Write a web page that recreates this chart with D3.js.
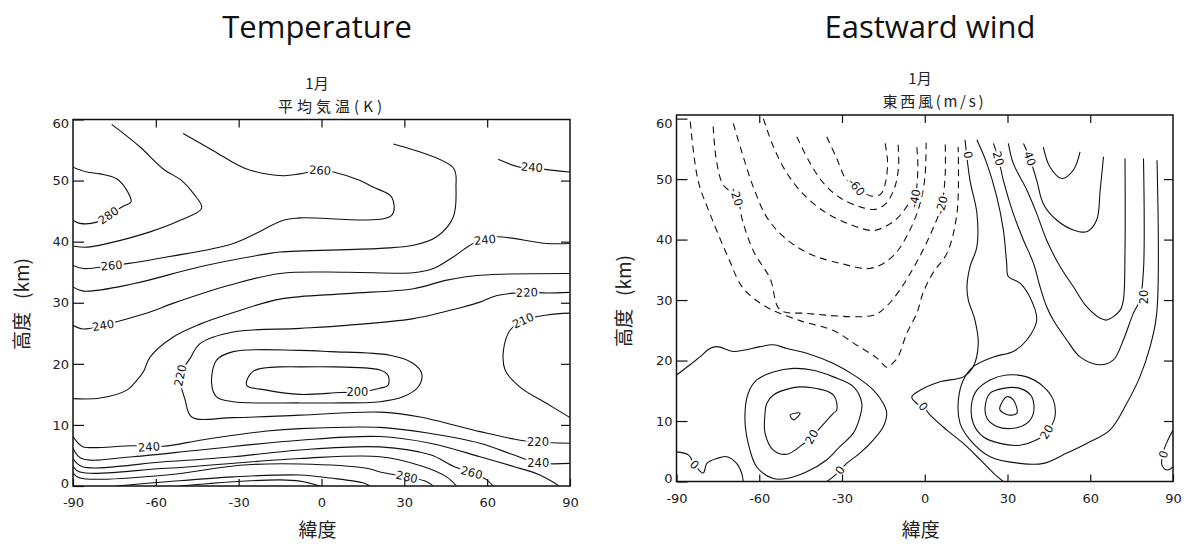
<!DOCTYPE html>
<html><head><meta charset="utf-8">
<script src="https://cdn.jsdelivr.net/npm/d3@7"></script>
<style>body{margin:0;background:#fff}</style></head>
<body><svg id="c" width="1186" height="550"></svg>
<script>
const latTicks=[-90,-60,-30,0,30,60,90];
const altTicks=[0,10,20,30,40,50,60];

// ---- Temperature (K) contours, [latitude, km] ----
const T280=[[-90,52.2],[-85,51.4],[-80.2,51.1],[-74.2,50.3],[-70.5,48.4],[-69,46.5],[-71.8,45.8],[-77.2,44.3],[-81.4,43.2],[-87.5,43.0],[-90,43.5]];
const T270=[[-76,59.2],[-65.7,55.5],[-57.3,51.9],[-50.6,50.0],[-46.4,47.9],[-43.4,45.5],[-51.2,43.5],[-62.1,41.6],[-76.6,39.8],[-85,39.1],[-90,39.3]];
const T260=[[-50.1,57.7],[-39.2,54.9],[-27.1,51.9],[-13.8,50.8],[-7.8,51.1],[-0.5,51.7],[4.3,51.4],[14,50],[18.8,48.9],[25.4,47.3],[25.4,44.3],[-7.8,43.9],[-13.8,43.5],[-31.9,39.7],[-56.1,37.5],[-70.5,36.4],[-76,36.1],[-86.3,35.6],[-90,36.1]];
const T250=[[26,56],[47.7,52.1],[48.7,48.9],[47.7,44],[41.7,40.8],[33.3,39.4],[21.2,38.9],[-15,38.3],[-19.8,38],[-44,35.9],[-68.2,33.1],[-86.3,31.9],[-90,32.6]];
const T240a=[[64,53.5],[71.9,52.2],[76.2,52.2],[81.6,51.8],[90,51.4]];
const T240b=[[90,39.7],[81.6,39.7],[63.5,40.8],[59.2,40.3],[54.9,39.7],[47.7,37.5],[40.5,35.6],[33.2,34.9],[9.1,35.0],[-15,34.8],[-33.1,32.9],[-53.8,29.9],[-62.1,28.5],[-74.1,26.9],[-79.1,26.3],[-86.4,25.7],[-90,26.3]];
const T230=[[90,34.8],[57.4,34.5],[45.4,33.7],[33.3,32.3],[9.1,31.5],[-15,30.6],[-31.9,28.4],[-44,26.5],[-53.7,24.4],[-62.1,21.1],[-64.5,18.7],[-66.9,17.3],[-70.5,15.7],[-80.2,14.4],[-90,14.3]];
const T220=[[90,31.7],[81.7,31.6],[74.4,31.7],[63.6,31.2],[57.4,30.1],[51.3,29.3],[33.3,27.4],[9.1,26.3],[-7.8,25.8],[-32,25.2],[-44,23.3],[-47.6,20.9],[-51.2,18.1],[-49.4,14.1],[-47,11.3],[-32,11.2],[-7.8,11.6],[21.2,12.1],[35.7,11.3],[57.4,8.9],[71.9,7.5],[78.4,7.2],[90,7.0]];
const T210a=[[-7.8,22.2],[-32,22.0],[-38,20.6],[-39.8,16.8],[-38,14.6],[-32,13.8],[-7.8,13.6],[3.1,13.6],[21.2,13.8],[29.5,14.6],[35,16.2],[36.3,18.4],[33.1,20.1],[24.8,21.4],[3.1,22.0]];
const T210b=[[90,28.3],[81.7,28.0],[73,27.1],[68.3,25.5],[65.9,22.2],[66.5,19.0],[71.9,16.2],[81.6,13.5],[90,11.2]];
const T200=[[-7.8,19.5],[-24.7,18.8],[-27.1,16.5],[-19.9,15.7],[-7.8,15.0],[6.7,15.3],[13.9,15.4],[21.2,16.0],[24.1,16.5],[24.1,18.1],[21.2,19.0],[-7.8,19.5]];
const T240c=[[-90,8.1],[-88.1,7.0],[-86.3,6.4],[-68.2,6.6],[-57.3,6.5],[-44,7.5],[-31.9,8.3],[-19.8,9.0],[-7.8,9.4],[21.2,9.6],[39.4,8.6],[57.4,7.0],[69.5,5.1],[78.1,3.8],[90,3.7]];
const T250b=[[-90,6.2],[-86.8,4.5],[-68.2,4.8],[-44,5.9],[-7.8,7.5],[21.2,8.1],[39.4,7.0],[57.4,4.8],[69.5,3.2],[78,2.0],[84,0.6],[86,0]];
const T260b=[[-90,4.5],[-86.8,3.2],[-56.1,4.0],[-31.9,4.8],[-7.8,5.9],[21.2,6.4],[39.4,5.1],[47.9,3.2],[54.4,2.2],[59.8,1.0],[62.2,0]];
const T270b=[[-90,3.2],[-87.5,2.3],[-56.1,2.9],[-7.8,4.5],[21.2,4.8],[36.8,3.2],[45.3,1.5],[48.9,0]];
const T280b=[[-90,2.1],[-87.5,1.3],[-56.1,1.8],[-29.5,3.4],[-7.8,3.6],[16.3,2.9],[21.2,2.3],[30.9,1.5],[38.1,0.7],[40.5,0]];
const T290b=[[-74.2,0],[-56.1,0.7],[-31.9,1.5],[-7.8,1.8],[3.1,1.3],[15.2,0.5],[17.6,0]];
const T300b=[[-51.3,0],[-31.9,0.7],[-15,1.0],[-7.8,0.8],[-0.5,0]];
const tempLines=[T280,T270,T260,T250,T240a,T240b,T230,T220,T210b,T240c,T250b,T260b,T270b,T280b,T290b,T300b];
const tempLoops=[T210a,T200];
const tempLabels=[["280",-77.2,44.3,-35],["260",-0.5,51.7,3],["240",76.2,52.2,4],["240",59.2,40.3,-6],["260",-76,36.1,-4],["220",74.4,31.7,-2],["240",-79.1,26.3,-10],["210",73,27.1,-25],["220",-51.2,18.1,-78],["200",13,15.4,0],["220",78.4,7.2,0],["240",-62.5,6.4,-4],["240",78.5,3.8,0],["260",54.4,2.2,15],["280",30.9,1.5,12]];

// ---- Eastward wind (m/s) contours ----
const Wm10=[[-85,59.5],[-82.2,49.8],[-77.9,44.3],[-71.3,37.1],[-65.9,32],[-57.2,28.8],[-45.2,26.6],[-33.3,25],[-24.5,22.5],[-17.3,20.4],[-13.7,18.9],[-11.5,19.6],[-9.7,20.6],[-6.5,24.5],[-2.8,27.9],[-0.6,31.2],[3,34.5],[8.1,37.8],[11.7,44.4],[12.1,55.3]];
const Wm20=[[-76.7,58.7],[-75.5,53],[-73,49],[-68.2,47.1],[-66,43],[-62,38],[-56,33.5],[-52.5,28.4],[-43,27.8],[-18.6,27.5],[-13.8,29],[-9,31.7],[-3.5,35.8],[1.9,40.7],[6.1,45.7],[7.4,50.7],[7.4,56.5]];
const Wm30=[[-69.4,59.2],[-66,54],[-62,48.5],[-57,43.5],[-50,40],[-41,37.5],[-30,36],[-21,35.2],[-16,35.8],[-11,37.5],[-6,41],[-2,45.5],[0,50],[0.5,56]];
const Wm40=[[-58.5,60],[-55,55.5],[-50,51],[-44,47.5],[-36,44.5],[-27,42.5],[-19,41.5],[-15,42],[-10,43.5],[-6.5,45.5],[-3.5,47.5],[-2.5,52],[-3,56]];
const Wm50=[[-46.4,57],[-42,53],[-37,49.5],[-31,47],[-24,45.5],[-18,45],[-14,46],[-11,48.5],[-9.5,52],[-9.7,56]];
const Wm60=[[-35.5,57],[-32,53.5],[-28.5,50],[-24,48.5],[-19.5,47.2],[-16,47.5],[-14.2,49.5],[-13.5,53],[-14.4,56]];
const W0n=[[14.6,56.5],[16.4,49.8],[18.9,44.4],[18.9,38.8],[16.4,35.5],[15.3,32.2],[15.8,30],[18.2,26.7],[19.4,22.8],[17.6,19],[14,17.3],[5.5,16.5],[-1.7,15.1],[-4.7,14],[-2.9,12.9],[-0.5,12.4],[1.9,11],[8,8.5],[14,6.3],[20.1,3.6],[24.9,1.4],[28.5,0]];
const W0s=[[-90,17.6],[-85.1,19.3],[-81.5,20.6],[-77.9,22],[-75.4,22.3],[-69.4,21.5],[-65.8,21.7],[-59.7,22.3],[-54.9,22.6],[-50,22],[-42.8,21.2],[-33.1,19.5],[-24.7,17.3],[-18.6,15.1],[-15,12.9],[-13.8,11.3],[-15,9.1],[-18.6,6.9],[-23.5,4.7],[-28.3,3],[-30.7,1.9],[-33.1,0.8],[-35.5,0]];
const W0sw=[[-90,4.9],[-85.7,4.4],[-83.5,2.8],[-80.3,1.4],[-79,3],[-75.4,3.8],[-71.8,4.1],[-68.2,3],[-66.4,1.4],[-65.8,0]];
const W0ne=[[90,8.5],[88.2,6.9],[86.4,4.8],[86,2.7],[87.9,1.9],[90,2.4]];
const W10s=[[-65.2,10.7],[-64,14.6],[-60.9,16.8],[-54.9,18.1],[-47.6,18.7],[-40.4,18.4],[-33.1,17.3],[-25.9,15.7],[-22.8,12.9],[-23.5,10.7],[-25.9,8],[-30.7,5.8],[-35.5,3.6],[-42.8,1.6],[-50,0.5],[-54.9,0.5],[-60.9,2.4],[-64,6.3]];
const W20s=[[-57.3,12.9],[-54.9,14.3],[-48.8,15.4],[-42.8,15.6],[-33.1,14.3],[-31.9,11.8],[-33.1,11.3],[-41,7.4],[-45.2,5.8],[-50,4.5],[-54.9,5.2],[-57.9,8],[-57.9,11.3]];
const W30s=[[-48.8,11.0],[-45.2,11.3],[-47.6,10.2]];
const W10n=[[18.9,56.5],[22.5,52.6],[26.1,47.1],[28.5,41.6],[29.7,36.1],[30.3,33.9],[34.5,32.8],[38.1,30.5],[40.6,26.7],[37,23.4],[32.1,21.5],[24.9,20.6],[17.6,19],[14,16.8],[12.2,13.5],[12.8,9.6],[16.4,6.9],[23.7,4.1],[34.5,3.0],[43,3.0],[51.5,4.7],[58.7,6.3],[67.1,8.5],[73.2,12.9],[78,17.3],[81.7,22.3],[84.1,27.8],[84.2,53.1]];
const W20n=[[24.9,55.9],[26.7,53.4],[28.5,49.8],[32.1,44.3],[35.8,39.9],[39.4,36.1],[41.8,32.2],[44.2,28.9],[46.6,26.7],[51.5,23.4],[56.3,20.6],[63.6,19.3],[68.4,20.1],[72,23.4],[75.6,27.8],[78,30],[79.3,35],[79.3,53.4]];
const W30n=[[30.3,55.9],[32.1,52.6],[37,48.2],[40.6,44.3],[44.2,39.9],[49.1,35.5],[53.9,32.2],[58.7,28.9],[63.6,27],[66,26.7],[70.8,28.3],[72,30],[72.6,38.3],[72.6,53.4]];
const W40n=[[35.8,55.9],[38.1,53.4],[40.6,49.8],[43,45.9],[47.9,43.2],[53.9,41.6],[58.7,41.3],[62.3,43.2],[63.6,48.2],[64.8,53.7]];
const W50n=[[43,55.3],[45.4,52],[49.7,50.1],[53.9,51.5],[56.3,54.5]];
const W20l=[[17,12.9],[18.9,15.1],[23.7,16.8],[29.7,17.6],[37,17.3],[43,15.7],[46.6,13.5],[47.2,10.7],[45.4,8.8],[44.2,8.2],[40.6,6.9],[34.5,6],[27.3,6.3],[21.2,7.4],[17.6,9.6]];
const W30l=[[21.9,12.4],[23.7,14.6],[28.5,15.4],[34.5,15.4],[38.8,14],[39.4,11.3],[37,9.6],[32.1,8.8],[26.1,9.1],[22.5,10.5]];
const W40l=[[27.3,12.4],[29.7,14],[32.1,13.5],[33.4,11.3],[30.3,11],[27.3,11.8]];
const windDashed=[Wm10,Wm20,Wm30,Wm40,Wm50,Wm60];
const windLines=[W0n,W0s,W0sw,W0ne,W10n,W20n,W30n,W40n,W50n];
const windLoops=[W10s,W20s,W30s,W20l,W30l,W40l];
const windLabels=[["-20",-68.2,47.1,72],["-60",-24.7,48.7,50],["-40",-3.6,46.8,-80],["-20",6.1,45.7,-75],["0",15.8,54,80],["20",26.7,53.4,75],["40",38.1,53.4,70],["20",79.3,30.5,-90],["0",-83.5,2.8,45],["20",-41,7.4,-60],["0",-30.7,1.9,-55],["0",-0.5,12.4,50],["20",44.2,8.2,-60],["0",86.5,4.5,-70]];

const svg=d3.select("#c");
const CJK='"Noto Sans CJK JP",sans-serif';
const fmt=d=>String(d);

function panel(o){
  const x=d3.scaleLinear().domain([-90,90]).range([o.x0,o.x1]);
  const y=d3.scaleLinear().domain([0,o.ytop]).range([o.y0,o.y1]);
  const g=svg.append("g");
  const id="clip"+o.id;
  svg.append("clipPath").attr("id",id).append("rect")
    .attr("x",o.x0).attr("y",o.y1).attr("width",o.x1-o.x0).attr("height",o.y0-o.y1);
  const cg=g.append("g").attr("clip-path",`url(#${id})`);
  const line=d3.line().x(d=>x(d[0])).y(d=>y(d[1])).curve(d3.curveCatmullRom.alpha(0.5));
  const loop=d3.line().x(d=>x(d[0])).y(d=>y(d[1])).curve(d3.curveCatmullRomClosed.alpha(0.5));
  o.lines.forEach(p=>cg.append("path").attr("d",line(p)).attr("fill","none").attr("stroke","#111").attr("stroke-width",1.1));
  (o.dashed||[]).forEach(p=>cg.append("path").attr("d",line(p)).attr("fill","none").attr("stroke","#111").attr("stroke-width",1.1).attr("stroke-dasharray","7,5"));
  o.loops.forEach(p=>cg.append("path").attr("d",loop(p)).attr("fill","none").attr("stroke","#111").attr("stroke-width",1.1));
  o.labels.forEach(([t,la,km,a])=>{
    cg.append("text").attr("transform",`translate(${x(la)},${y(km)}) rotate(${a})`)
      .attr("text-anchor","middle").attr("dy","0.36em")
      .attr("font-family","DejaVu Sans").attr("font-size",11.5)
      .attr("stroke","#fff").attr("stroke-width",4).attr("paint-order","stroke")
      .attr("fill","#111").text(t);
  });
  g.append("rect").attr("x",o.x0).attr("y",o.y1).attr("width",o.x1-o.x0).attr("height",o.y0-o.y1)
    .attr("fill","none").attr("stroke","#111").attr("stroke-width",1.5);
  const bottom=d3.axisBottom(x).tickValues(latTicks).tickSize(-7).tickPadding(12).tickFormat(fmt);
  const ga=g.append("g").attr("transform",`translate(0,${o.y0})`).call(bottom);
  ga.select(".domain").remove();
  ga.selectAll("text").attr("font-family","DejaVu Sans").attr("font-size",13).attr("fill","#222");
  const top=d3.axisTop(x).tickValues(latTicks.slice(1,-1)).tickSize(-8).tickFormat("");
  g.append("g").attr("transform",`translate(0,${o.y1})`).call(top).select(".domain").remove();
  const left=d3.axisLeft(y).tickValues(altTicks).tickSize(-11).tickPadding(4).tickFormat(fmt);
  const gl=g.append("g").attr("transform",`translate(${o.x0},0)`).call(left);
  gl.select(".domain").remove();
  gl.selectAll("text").attr("font-family","DejaVu Sans").attr("font-size",13).attr("fill","#222")
    .attr("dy",d=>d===60?"0.65em":(d===0?"0.1em":"0.32em"));
  const right=d3.axisRight(y).tickValues(altTicks.slice(1,-1)).tickSize(-9).tickFormat("");
  g.append("g").attr("transform",`translate(${o.x1},0)`).call(right).select(".domain").remove();
  g.selectAll(".tick line").attr("stroke","#111").attr("stroke-width",1.2);
  svg.append("text").attr("x",o.tx).attr("y",38).attr("text-anchor","middle")
    .attr("font-family","Open Sans").attr("font-size",31).attr("fill","#111").text(o.title);
  svg.append("text").attr("x",o.mx).attr("y",o.y1-31).attr("text-anchor","middle")
    .attr("font-family",CJK).attr("font-size",15).attr("fill","#222").text("1月");
  svg.append("text").attr("x",o.sx).attr("y",o.y1-8).attr("text-anchor","middle")
    .attr("font-family",CJK).attr("font-size",15).attr("textLength",o.sw).attr("lengthAdjust","spacing")
    .attr("fill","#222").text(o.sub);
  svg.append("text").attr("x",(o.x0+o.x1)/2-4).attr("y",537).attr("text-anchor","middle")
    .attr("font-family",CJK).attr("font-size",19).attr("fill","#222").text("緯度");
  const yl=svg.append("text").attr("transform",`translate(${o.yl},${o.ylc}) rotate(-90)`).attr("text-anchor","middle")
    .attr("font-family",CJK).attr("font-size",19).attr("fill","#222");
  yl.append("tspan").text("高度");
  yl.append("tspan").attr("dx",13).text("(km)");
}

panel({id:1,x0:73,x1:570,y0:486,y1:119.5,ytop:60,lines:tempLines,loops:tempLoops,labels:tempLabels,
  title:"Temperature",tx:317,mx:317,sx:330,sw:104,sub:"平均気温(K)",yl:29,ylc:304});
panel({id:2,x0:676.5,x1:1173,y0:481.5,y1:115,ytop:60.6,lines:windLines,dashed:windDashed,loops:windLoops,labels:windLabels,
  title:"Eastward wind",tx:930,mx:920,sx:933,sw:101,sub:"東西風(m/s)",yl:631,ylc:301});
</script></body></html>
